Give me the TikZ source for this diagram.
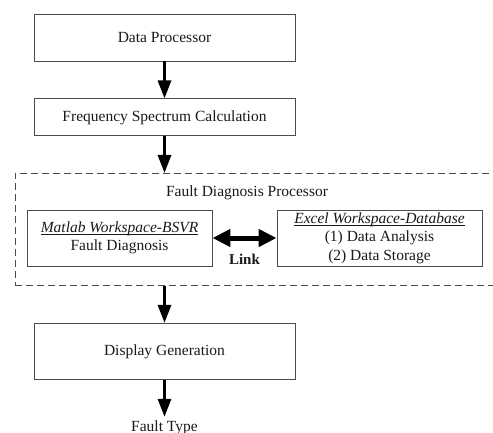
\documentclass[tikz,border=0pt]{standalone}
\usepackage{amsmath}
\usepackage{fontspec}
\setmainfont{Liberation Serif}
\usetikzlibrary{positioning,arrows.meta}
\newcommand{\ulit}[1]{\underline{\smash[b]{\textit{#1}}}}

\begin{document}
\begin{tikzpicture}[
			x=1pt, y=-1pt,
			>={Triangle[length=18pt,width=13pt]},
			every node/.style={font=\fontsize{15.5}{18.5}\selectfont, text=black!90},
			box/.style={draw=black!70, line width=0.9pt, minimum width=261pt, align=center, inner sep=2pt},
			flow/.style={->, line width=3pt}
			]
			\path[use as bounding box, clip] (0,0) rectangle (493,433);
			
			\node[box, minimum height=47pt] (dp) at (164.5,37.5) {Data Processor};
			\node[box, minimum height=37pt, below=37pt of dp] (freq) {Frequency Spectrum Calculation};
			
			% dashed frame, runs off the right edge
			\node[draw=black!70, line width=0.9pt, dash pattern=on 7pt off 4pt, minimum width=500pt, minimum height=112pt, anchor=north west] (proc) at (15,173) {};
			\node (title) at (247,193) {Fault Diagnosis Processor};
			\node[box, minimum width=185pt, minimum height=56pt] (matlab) at (119.5,238) {\ulit{Matlab Workspace-BSVR}\\Fault Diagnosis};
			\node[box, minimum width=205pt, minimum height=56pt] (excel) at (379.5,238) {\ulit{Excel Workspace-Database}\\(1) Data Analysis\\(2) Data Storage};
			
			\coordinate (procbot) at (proc.south -| dp);
			\node[box, minimum height=56pt, below=37pt of procbot] (disp) {Display Generation};
			\node[below=37pt of disp] (type) {Fault Type};
			
			\draw[flow] (dp) -- (freq);
			\draw[flow] (freq) -- (freq.south |- proc.north);
			\draw[<->, line width=5pt, >={Triangle[length=18pt,width=17pt]}] (matlab) -- node[below=10pt, font=\fontsize{15}{18}\selectfont\bfseries] {Link} (excel);
			\draw[flow] (procbot) -- (disp);
			\draw[flow] (disp.south) -- (type.north);
		\end{tikzpicture}
\end{document}
